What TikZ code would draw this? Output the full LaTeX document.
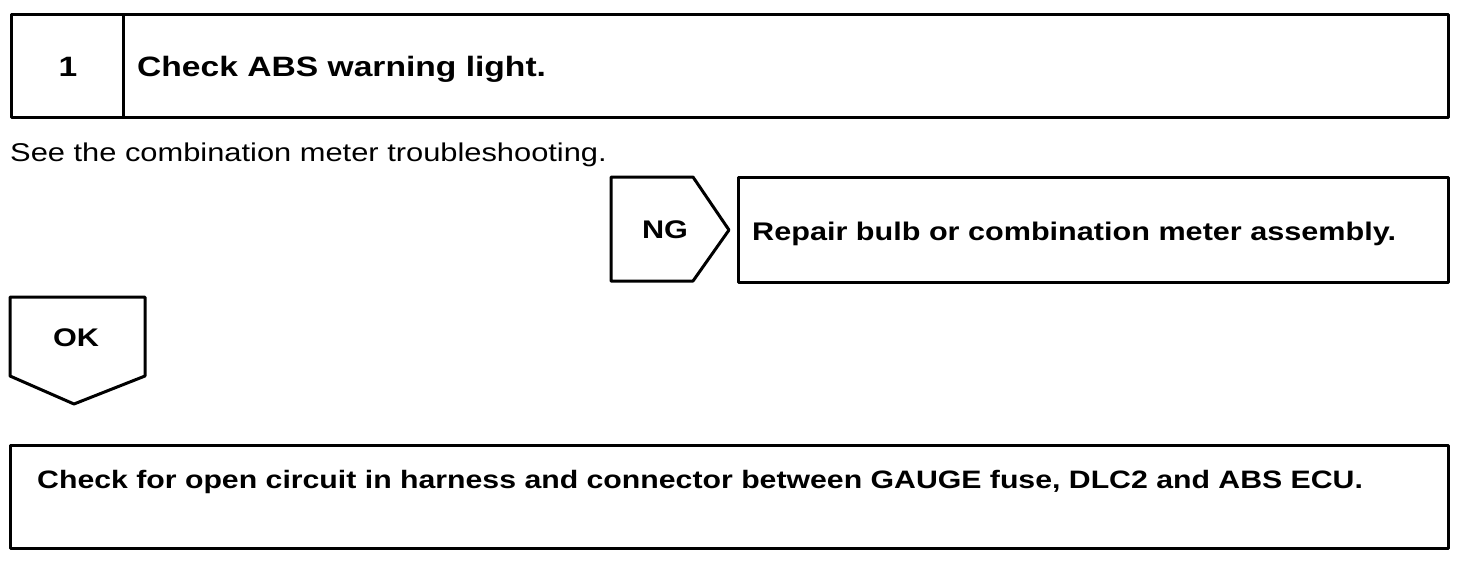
\documentclass[tikz,border=0pt]{standalone}
\usepackage{fontspec}
\setmainfont{Liberation Sans}[FakeStretch=1.2]
\begin{document}
\begin{tikzpicture}[x=1pt,y=-1pt,
  box/.style={draw=black,line width=3pt,line join=round},
  big/.style={font=\fontsize{28}{32}\selectfont\bfseries},
  mid/.style={font=\fontsize{25.5}{30}\selectfont\bfseries},
  low/.style={font=\fontsize{25.2}{30}\selectfont\bfseries},
  plain/.style={font=\fontsize{25.7}{30}\selectfont},
  lbl/.style={inner sep=0pt,anchor=base west}]
\useasboundingbox (0,0) rectangle (1472,566);
\fill[white] (0,0) rectangle (1472,566);
% top step box
\draw[box] (11,14) rectangle (1448,117);
\draw[box] (123,14) -- (123,117);
\node[big,inner sep=0pt,anchor=base] (num) at (68,76) {1};
\node[big,lbl] (title) at (137,76) {Check ABS warning light.};
\node[plain,lbl] (see) at (10,161) {See the combination meter troubleshooting.};
% NG chevron
\draw[box] (611,177) -- (693,177) -- (729,230) -- (693,281) -- (611,281) -- cycle;
\node[mid,inner sep=0pt,anchor=base] (ng) at (665,238) {NG};
\draw[box] (738,177) rectangle (1448,282);
\node[mid,lbl] (repair) at (752,240) {Repair bulb or combination meter assembly.};
% OK chevron
\draw[box] (10,297) -- (145,297) -- (145,376) -- (74,404) -- (10,376) -- cycle;
\node[mid,inner sep=0pt,anchor=base] (ok) at (76,346) {OK};
% bottom box
\draw[box] (10,445) rectangle (1448,548);
\node[low,lbl] (chk) at (37,488) {Check for open circuit in harness and connector between GAUGE fuse, DLC2 and ABS ECU.};
\end{tikzpicture}
\end{document}
